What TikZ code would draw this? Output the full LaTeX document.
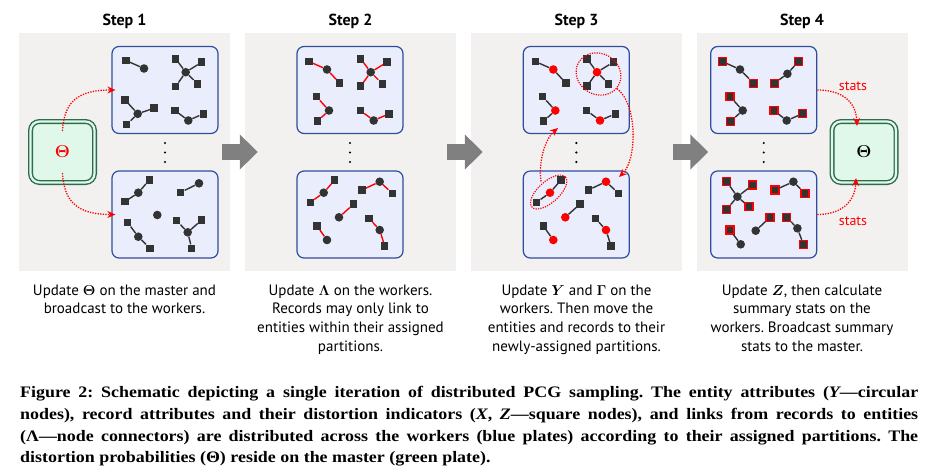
\documentclass[tikz,border=0pt]{standalone}
\usepackage{fontspec}
\usepackage{bm}
\setmainfont{PT Sans}
\newfontfamily\capfont{Liberation Serif}[FakeStretch=1.12]
\usetikzlibrary{arrows.meta,shapes.geometric}
\frenchspacing
\definecolor{panelgray}{HTML}{F2F1F0}
\definecolor{platefill}{HTML}{EAEEFC}
\definecolor{plateedge}{HTML}{2F4E9E}
\definecolor{greenfill}{HTML}{DFF8EA}
\definecolor{greenedge}{HTML}{2E6B4C}
\definecolor{nodedark}{HTML}{333333}
\definecolor{arrowgray}{HTML}{808080}
\definecolor{hotred}{HTML}{FF0000}
\newcommand\Rn[3]{\node[rec] (#1) at (#2,#3) {};}
\newcommand\En[3]{\node[ent] (#1) at (#2,#3) {};}
\newcommand\Ln[2]{\draw[lnk] (#1) -- (#2);}
% panel 1
\newcommand\pcgTopA{%
 \Rn{a1}{14}{14}\En{a0}{32}{22}\Ln{a1}{a0}
 \En{b0}{73.7}{25.7}\Rn{b1}{63.7}{12.3}\Rn{b2}{89.7}{15.7}\Rn{b3}{85.7}{37.3}\Rn{b4}{63.7}{40}
 \Ln{b0}{b1}\Ln{b0}{b2}\Ln{b0}{b3}\Ln{b0}{b4}
 \En{c0}{25.7}{67.3}\Rn{c1}{13}{53.3}\Rn{c2}{42}{61.7}\Rn{c3}{14.7}{78}
 \Ln{c0}{c1}\Ln{c0}{c2}\Ln{c0}{c3}
 \Rn{d1}{63}{64}\Rn{d2}{91.3}{67.3}\En{d0}{76.3}{74}
 \Ln{d0}{d1}\Ln{d0}{d2}}
\newcommand\pcgBotA{%
 \Rn{a1}{13}{30.7}\En{a0}{26.3}{21.7}\Rn{a2}{37.3}{9}\Ln{a0}{a1}\Ln{a0}{a2}
 \Rn{b1}{68.7}{21.3}\En{b0}{87}{12.3}\Ln{b0}{b1}
 \En{c0}{45.3}{44}
 \Rn{e1}{15.7}{51.7}\En{e0}{26.3}{65.7}\Rn{e2}{38}{77.3}\Ln{e0}{e1}\Ln{e0}{e2}
 \En{f0}{75.7}{61.3}\Rn{f1}{64.7}{49.7}\Rn{f2}{89.7}{49}\Rn{f3}{79.7}{77.3}
 \Ln{f0}{f1}\Ln{f0}{f2}\Ln{f0}{f3}}
% panels 2 and 3
\newcommand\pcgTopB{%
 \Rn{a1}{12}{15}\En{a0}{30}{23}\Rn{a2}{42.7}{36.7}\Ln{a0}{a1}\Ln{a0}{a2}
 \En{b0}{73.7}{25.7}\Rn{b1}{63.7}{12.3}\Rn{b2}{90}{15.7}\Rn{b3}{85.3}{37.3}\Rn{b4}{63.7}{39.7}
 \Ln{b0}{b1}\Ln{b0}{b2}\Ln{b0}{b3}\Ln{b0}{b4}
 \En{c0}{32}{64}\Rn{c1}{19.3}{50}\Rn{c2}{20.3}{74.7}\Ln{c0}{c1}\Ln{c0}{c2}
 \Rn{d1}{63.3}{64}\En{d0}{76.7}{74}\Rn{d2}{92}{67.3}\Ln{d0}{d1}\Ln{d0}{d2}}
\newcommand\pcgBotB{%
 \Rn{a1}{13.3}{31.3}\En{a0}{26.7}{21.7}\Rn{a2}{37.7}{9}\Ln{a0}{a1}\Ln{a0}{a2}
 \Rn{b1}{65}{19}\En{b0}{82.7}{10.7}\Rn{b2}{95.3}{22.3}\Ln{b0}{b1}\Ln{b0}{b2}
 \En{c0}{42}{46.3}\Rn{c1}{56.7}{33}\Ln{c0}{c1}
 \Rn{e1}{20}{55}\En{e0}{30}{69}\Ln{e0}{e1}
 \Rn{f1}{72}{47.3}\En{f0}{82.7}{59}\Rn{f2}{87.7}{75}\Ln{f0}{f1}\Ln{f0}{f2}}
% panel 4
\newcommand\pcgTopD{%
 \Rn{a1}{11.7}{15}\En{a0}{29.3}{23}\Rn{a2}{42.7}{36.7}\Ln{a0}{a1}\Ln{a0}{a2}
 \Rn{b1}{63.7}{36.7}\En{b0}{76.7}{27.3}\Rn{b2}{87.7}{15}\Ln{b0}{b1}\Ln{b0}{b2}
 \Rn{c1}{19.3}{50}\En{c0}{32}{64}\Rn{c2}{20}{74.7}\Ln{c0}{c1}\Ln{c0}{c2}
 \Rn{d1}{63.3}{64}\En{d0}{76}{74}\Rn{d2}{91.7}{67.3}\Ln{d0}{d1}\Ln{d0}{d2}}
\newcommand\pcgBotD{%
 \En{a0}{26.7}{25.7}\Rn{a1}{16}{10.7}\Rn{a2}{42}{14}\Rn{a3}{38.3}{35.7}\Rn{a4}{16}{38.3}
 \Ln{a0}{a1}\Ln{a0}{a2}\Ln{a0}{a3}\Ln{a0}{a4}
 \Rn{b1}{64.3}{19}\En{b0}{82.7}{10.7}\Rn{b2}{94.3}{22.3}\Ln{b0}{b1}\Ln{b0}{b2}
 \En{c0}{45}{59.7}\Rn{c1}{59.3}{46.3}\Ln{c0}{c1}
 \Rn{e1}{19.3}{59}\En{e0}{30}{73.3}\Ln{e0}{e1}
 \Rn{f1}{76}{46.3}\En{f0}{86.7}{57.3}\Rn{f2}{92.7}{73.3}\Ln{f0}{f1}\Ln{f0}{f2}}
\begin{document}
\begin{tikzpicture}[x=1pt,y=-1pt,
 panel/.style={fill=panelgray, minimum width=211pt, minimum height=238pt, inner sep=0pt},
 plate/.style={draw=plateedge, fill=platefill, line width=1.2pt, rounded corners=7pt, minimum width=106pt, minimum height=87pt, inner sep=0pt},
 master/.style={draw=greenedge, double=greenfill, double distance=2.2pt, line width=1.4pt, fill=greenfill, rounded corners=9pt, minimum width=64pt, minimum height=61pt, inner sep=0pt, font=\fontsize{19}{23}\selectfont},
 rec/.style={rectangle, fill=nodedark, minimum size=7.5pt, inner sep=0pt},
 ent/.style={circle, fill=nodedark, minimum size=8.6pt, inner sep=0pt},
 lnk/.style={draw=nodedark, line width=1.4pt},
 garrow/.style={draw=arrowgray, line width=15.6pt, -{Triangle[length=18pt,width=34pt]}},
 msg/.style={draw=hotred, line width=1.3pt, dash pattern=on 1.3pt off 1.3pt, -{Stealth[length=8pt,width=7pt]}},
 ring/.style={ellipse, draw=hotred, line width=1.2pt, dash pattern=on 1.2pt off 1.2pt, inner sep=0pt},
 steptitle/.style={font=\bfseries\fontsize{16}{19}\selectfont},
 desc/.style={anchor=north, align=center, inner sep=0pt, font=\fontsize{15}{18.7}\selectfont},
 statlbl/.style={text=hotred, font=\fontsize{14}{16}\selectfont, inner sep=0pt},
 capline/.style={anchor=base west, inner sep=0pt, font=\capfont\bfseries\fontsize{16}{22}\selectfont},
]
\useasboundingbox (0,0) rectangle (940,474);
\fill[white] (0,0) rectangle (940,474);
% panels
\node[panel] (pan1) at (124.5,152) {};
\node[panel] (pan2) at (350.5,152) {};
\node[panel] (pan3) at (576.5,152) {};
\node[panel] (pan4) at (802,152) {};
\node[steptitle] (st1) at (124.5,21) {Step 1};
\node[steptitle] (st2) at (350.5,21) {Step 2};
\node[steptitle] (st3) at (576.5,21) {Step 3};
\node[steptitle] (st4) at (802,21) {Step 4};
% big arrows
\draw[garrow] ([xshift=-8pt]pan1.east) -- ([xshift=13pt]pan2.west);
\draw[garrow] ([xshift=-9pt]pan2.east) -- ([xshift=12pt]pan3.west);
\draw[garrow] ([xshift=-9pt]pan3.east) -- ([xshift=12pt]pan4.west);
% plates
\node[plate] (p1t) at (165,90) {};
\node[plate] (p1b) at (165,214.5) {};
\node[plate] (p2t) at (350,90) {};
\node[plate] (p2b) at (350,214.5) {};
\node[plate] (p3t) at (576.3,90) {};
\node[plate] (p3b) at (576.3,214.5) {};
\node[plate] (p4t) at (763.7,90) {};
\node[plate] (p4b) at (763.7,214.5) {};
\foreach \cx in {165,350,576.3,763.7} {
  \fill[black] (\cx,143) circle (1.2pt);
  \fill[black] (\cx,152.5) circle (1.2pt);
  \fill[black] (\cx,162) circle (1.2pt);
}
% plate contents
\begin{scope}[shift={(112,46.5)}, name prefix=q1t-]\pcgTopA\end{scope}
\begin{scope}[shift={(112,171)}, name prefix=q1b-]\pcgBotA\end{scope}
\begin{scope}[shift={(297,46.5)}, name prefix=q2t-, lnk/.append style={draw=hotred}]\pcgTopB\end{scope}
\begin{scope}[shift={(297,171)}, name prefix=q2b-, lnk/.append style={draw=hotred}]\pcgBotB\end{scope}
\begin{scope}[shift={(523.3,46.5)}, name prefix=q3t-, ent/.append style={fill=hotred}]\pcgTopB\end{scope}
\begin{scope}[shift={(523.3,171)}, name prefix=q3b-, ent/.append style={fill=hotred}]\pcgBotB\end{scope}
\begin{scope}[shift={(710.7,46.5)}, name prefix=q4t-, rec/.append style={draw=hotred, line width=1.1pt, minimum size=8pt}]\pcgTopD\end{scope}
\begin{scope}[shift={(710.7,171)}, name prefix=q4b-, rec/.append style={draw=hotred, line width=1.1pt, minimum size=8pt}]\pcgBotD\end{scope}
% masters
\node[master] (m1) at (62.5,152) {\color{hotred}$\bm{\Theta}$};
\node[master] (m4) at (864,152) {$\bm{\Theta}$};
% step 1 broadcasts
\coordinate (s1a) at (62.5,131);
\coordinate (s1b) at (62.5,173);
\draw[msg] (s1a) .. controls (64,100) and (80,90) .. ([xshift=4pt]p1t.west);
\draw[msg] (s1b) .. controls (64,204) and (80,214.5) .. ([xshift=4pt]p1b.west);
% step 3 moves
\node[ring, minimum width=46pt, minimum height=41pt, rotate=-30] (e1) at (598.5,74) {};
\node[ring, minimum width=45pt, minimum height=21pt, rotate=42] (e2) at (548.7,192) {};
\coordinate (s3a) at (617,88.5);
\coordinate (t3a) at (619,177);
\coordinate (s3b) at (541,181.5);
\coordinate (t3b) at (558,128);
\draw[msg] (s3a) .. controls (638,105) and (637,160) .. (t3a);
\draw[msg] (s3b) .. controls (538,160) and (546,138) .. (t3b);
% step 4 stats
\coordinate (t4a) at (857,126);
\coordinate (t4b) at (856,178);
\draw[msg] (p4t.east) .. controls (840,90) and (856,100) .. (t4a);
\draw[msg] (p4b.east) .. controls (840,214.5) and (855,203) .. (t4b);
\node[statlbl] (lb1) at (853,86) {stats};
\node[statlbl] (lb2) at (853,221) {stats};
% descriptions
\node[desc] (d1) at (124.5,284.5) {Update $\bm{\Theta}$ on the master and\\broadcast to the workers.};
\node[desc] (d2) at (350.5,284.5) {Update $\bm{\Lambda}$ on the workers.\\Records may only link to\\entities within their assigned\\partitions.};
\node[desc] (d3) at (576.5,284.5) {Update $\bm{Y}$ and $\bm{\Gamma}$ on the\\workers. Then move the\\entities and records to their\\newly-assigned partitions.};
\node[desc] (d4) at (802,284.5) {Update $\bm{Z}$, then calculate\\summary stats on the\\workers. Broadcast summary\\stats to the master.};
% caption
\node[capline] (c1) at (20,397) {\makebox[898pt][s]{Figure 2: Schematic depicting a single iteration of distributed PCG sampling. The entity attributes ({\itshape Y}—circular}};
\node[capline] (c2) at (20,419) {\makebox[898pt][s]{nodes), record attributes and their distortion indicators ({\itshape X}, {\itshape Z}—square nodes), and links from records to entities}};
\node[capline] (c3) at (20,441) {\makebox[898pt][s]{(Λ—node connectors) are distributed across the workers (blue plates) according to their assigned partitions. The}};
\node[capline] (c4) at (20,462) {distortion probabilities (Θ) reside on the master (green plate).};
\end{tikzpicture}
\end{document}
